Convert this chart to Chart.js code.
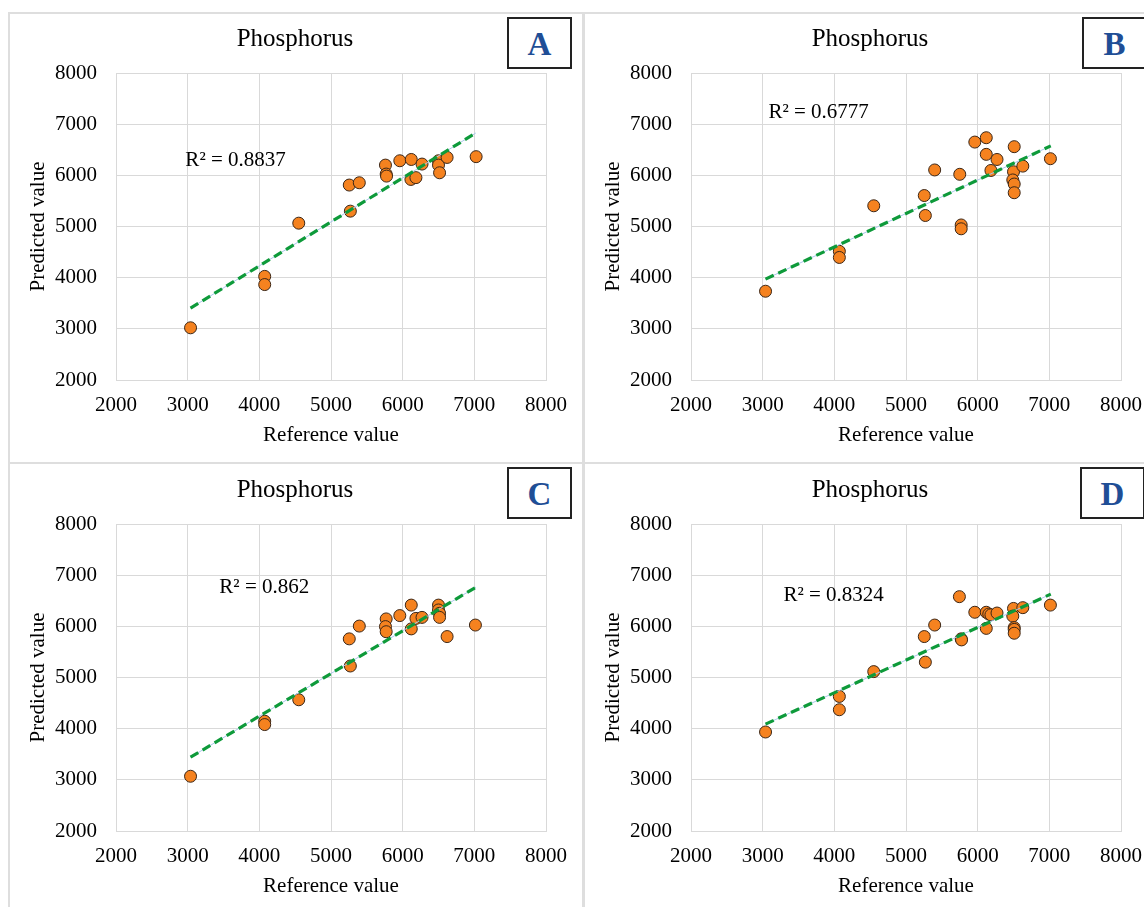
<!DOCTYPE html>
<html>
<head>
<meta charset="utf-8">
<script src="https://cdn.jsdelivr.net/npm/chart.js@4.4.1/dist/chart.umd.min.js"></script>
<style>
body { margin: 0; background: #fff; width: 1144px; height: 907px; overflow: hidden; position: relative; font-family: "Liberation Serif", serif; }
.panel { position: absolute; border: 2px solid #dedede; box-sizing: border-box; }
.wrap { position: absolute; width: 575px; height: 450px; }
.tag { position: absolute; width: 65px; height: 52px; border: 2px solid #222; box-sizing: border-box; background: #fff;
       color: #1f4e96; font: bold 33px "Liberation Serif", serif; text-align: center; line-height: 50px; }
</style>
</head>
<body>
<div class="panel" style="left:8px;top:12px;width:576px;height:452px"></div>
<div class="panel" style="left:583px;top:12px;width:580px;height:452px"></div>
<div class="panel" style="left:8px;top:462px;width:576px;height:460px"></div>
<div class="panel" style="left:583px;top:462px;width:580px;height:460px"></div>

<div class="wrap" style="left:8px;top:12px"><canvas id="chartA"></canvas></div>
<div class="wrap" style="left:583px;top:12px"><canvas id="chartB"></canvas></div>
<div class="wrap" style="left:8px;top:463px"><canvas id="chartC"></canvas></div>
<div class="wrap" style="left:583px;top:463px"><canvas id="chartD"></canvas></div>

<div class="tag" style="left:507px;top:17px">A</div>
<div class="tag" style="left:1082px;top:17px">B</div>
<div class="tag" style="left:507px;top:467px">C</div>
<div class="tag" style="left:1080px;top:467px">D</div>

<script>
// axis ticks (same on both axes)
const tickValues = [2000, 3000, 4000, 5000, 6000, 7000, 8000];
const tickLabels = ['2000', '3000', '4000', '5000', '6000', '7000', '8000'];

// panel A
const refA  = [3040, 4075, 4075, 4550, 5255, 5395, 5270, 5760, 5770, 5775, 5960, 6120, 6115, 6185, 6270, 6500, 6500, 6515, 6620, 7025];
const predA = [3020, 4025, 3865, 5065, 5810, 5855, 5300, 6200, 6025, 5985, 6285, 6310, 5920, 5955, 6220, 6285, 6200, 6050, 6350, 6365];
// panel B
const refB  = [3040, 4070, 4070, 4550, 5255, 5270, 5400, 5750, 5770, 5770, 5960, 6120, 6120, 6185, 6270, 6510, 6500, 6490, 6510, 6510, 6630, 7015];
const predB = [3735, 4515, 4395, 5405, 5605, 5215, 6105, 6020, 5030, 4955, 6650, 6735, 6410, 6095, 6310, 6560, 6070, 5910, 5830, 5660, 6180, 6325];
// panel C
const refC  = [3040, 4075, 4075, 4550, 5255, 5270, 5395, 5770, 5760, 5770, 5960, 6120, 6120, 6185, 6270, 6500, 6500, 6515, 6515, 6620, 7015];
const predC = [3070, 4145, 4080, 4565, 5755, 5225, 6005, 6145, 5995, 5895, 6210, 6415, 5950, 6155, 6175, 6415, 6320, 6255, 6175, 5800, 6025];
// panel D
const refD  = [3040, 4070, 4070, 4550, 5255, 5270, 5400, 5745, 5770, 5775, 5960, 6120, 6155, 6185, 6270, 6120, 6500, 6490, 6510, 6510, 6510, 6630, 7015];
const predD = [3935, 4630, 4370, 5115, 5800, 5300, 6025, 6580, 5755, 5735, 6275, 6275, 6240, 6225, 6260, 5960, 6350, 6200, 5975, 5940, 5865, 6365, 6415];

// trendline ends
const trendX = [3040, 7020];
const trendA = [3405, 6827];
const trendB = [3972, 6575];
const trendC = [3443, 6763];
const trendD = [4089, 6629];

const r2Labels = ['R\u00B2 = 0.8837', 'R\u00B2 = 0.6777', 'R\u00B2 = 0.862', 'R\u00B2 = 0.8324'];
// where each R² label starts, in data units [x, y]
const r2Anchor = [[2968, 6298], [3080, 7234], [3442, 6756], [3289, 6610]];

const serif = '"Liberation Serif", "Times New Roman", serif';

const panelText = {
  id: 'panelText',
  afterDraw(chart, args, opts) {
    const { ctx, chartArea: a, scales: { x, y } } = chart;
    ctx.save();
    ctx.fillStyle = '#000';
    ctx.textBaseline = 'middle';
    ctx.textAlign = 'center';
    ctx.font = '25px ' + serif;
    ctx.fillText('Phosphorus', (a.left + a.right) / 2 - 36, 27);
    ctx.textAlign = 'left';
    ctx.font = '21px ' + serif;
    ctx.fillText(opts.label, x.getPixelForValue(opts.at[0]), y.getPixelForValue(opts.at[1]));
    ctx.restore();
  }
};

function axis(title, isY) {
  return {
    type: 'linear',
    min: 2000, max: 8000,
    afterBuildTicks: s => { s.ticks = tickValues.map(v => ({ value: v })); },
    afterFit: s => { if (isY) s.width = 108; else s.height = 67.6; },
    grid: { color: '#d9d9d9', lineWidth: 1, drawTicks: false },
    border: { color: '#d9d9d9', width: 1 },
    ticks: {
      padding: isY ? 19 : 13,
      color: '#000',
      font: { family: serif, size: 21 },
      callback: (v) => tickLabels[tickValues.indexOf(v)]
    },
    title: {
      display: true, text: title, color: '#000',
      font: { family: serif, size: 21 },
      padding: isY ? { top: 18, bottom: 0 } : { top: 0, bottom: 0 }
    }
  };
}

function makeChart(id, ref, pred, trend, idx) {
  const pts = ref.map((v, i) => ({ x: v, y: pred[i] }));
  const line = trendX.map((v, i) => ({ x: v, y: trend[i] }));
  new Chart(document.getElementById(id), {
    type: 'scatter',
    data: {
      datasets: [
        { data: line, showLine: true, borderColor: '#0e9a3a', borderWidth: 3.2, borderDash: [9, 5], pointRadius: 0 },
        { data: line, showLine: true, borderColor: '#a9c8ea', borderWidth: 1, pointRadius: 0 },
        { data: pts, backgroundColor: '#f5821f', borderColor: '#3b2616', borderWidth: 1, pointRadius: 6 }
      ]
    },
    options: {
      responsive: false,
      animation: false,
      layout: { padding: { top: 61, right: 37, bottom: 14.4, left: 0 } },
      plugins: {
        legend: { display: false },
        tooltip: { enabled: false },
        panelText: { label: r2Labels[idx], at: r2Anchor[idx] }
      },
      scales: {
        x: axis('Reference value', false),
        y: axis('Predicted value', true)
      }
    },
    plugins: [panelText]
  });
}

['chartA', 'chartB', 'chartC', 'chartD'].forEach(id => {
  const c = document.getElementById(id);
  c.width = 575; c.height = 450;
});

makeChart('chartA', refA, predA, trendA, 0);
makeChart('chartB', refB, predB, trendB, 1);
makeChart('chartC', refC, predC, trendC, 2);
makeChart('chartD', refD, predD, trendD, 3);
</script>
</body>
</html>
